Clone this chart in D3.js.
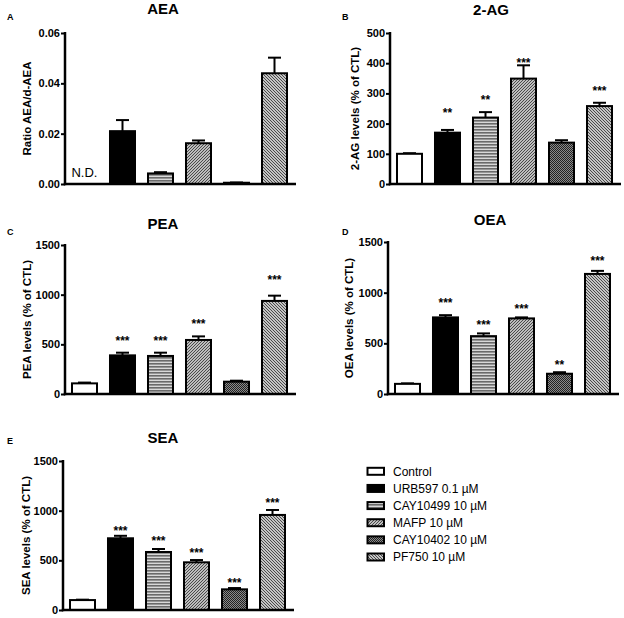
<!DOCTYPE html>
<html><head><meta charset="utf-8">
<script src="https://cdn.jsdelivr.net/npm/d3@7"></script>
<style>
html,body{margin:0;padding:0;background:#fff;}
svg{display:block;font-family:"Liberation Sans",Arial,sans-serif;}
</style></head>
<body><svg id="c" width="624" height="618"></svg>
<script>
// ---------- data ----------
const groups = ["Control","URB597 0.1 µM","CAY10499 10 µM","MAFP 10 µM","CAY10402 10 µM","PF750 10 µM"];
const panelIds = ["A","B","C","D","E"];
const titles = ["AEA","2-AG","PEA","OEA","SEA"];
const yLabels = ["Ratio AEA/d-AEA","2-AG levels (% of CTL)","PEA levels (% of CTL)","OEA levels (% of CTL)","SEA levels (% of CTL)"];
const yMax = [0.06, 500, 1500, 1500, 1500];
const yTicks = [[0,0.02,0.04,0.06],[0,100,200,300,400,500],[0,500,1000,1500],[0,500,1000,1500],[0,500,1000,1500]];
const tickFormats = [".2f","d","d","d","d"];

const aeaMean = [null, 0.021, 0.0042, 0.0162, 0.0005, 0.0440];
const aeaErr  = [null, 0.0044, 0.0005, 0.0011, 0.0001, 0.0062];
const agMean  = [100, 170, 220, 349, 137, 258];
const agErr   = [2, 9, 18, 44, 8, 11];
const peaMean = [107, 389, 383, 544, 124, 937];
const peaErr  = [8, 27, 33, 36, 10, 53];
const oeaMean = [100, 756, 571, 746, 200, 1185];
const oeaErr  = [5, 22, 27, 10, 15, 30];
const seaMean = [100, 722, 584, 480, 208, 957];
const seaErr  = [4, 25, 30, 23, 13, 50];

const agStars  = ["","**","**","***","","***"];
const peaStars = ["","***","***","***","","***"];
const oeaStars = ["","***","***","***","**","***"];
const seaStars = ["","***","***","***","***","***"];
const agStarAt  = [0,245,288,411,0,318];
const peaStarAt = [0,561,561,738,0,1181];
const oeaStarAt = [0,926,712,867,315,1340];
const seaStarAt = [0,829,725,604,302,1108];

const means = [aeaMean, agMean, peaMean, oeaMean, seaMean];
const errs  = [aeaErr, agErr, peaErr, oeaErr, seaErr];
const stars = [null, agStars, peaStars, oeaStars, seaStars];
const starAt = [null, agStarAt, peaStarAt, oeaStarAt, seaStarAt];

// ---------- layout ----------
const layout = [
  {ax:65,  yb:184, yt:33,  tx:163, ty:14,  lx:7,   ly:20,  labx:31},
  {ax:390, yb:184, yt:33,  tx:491, ty:15,  lx:342, ly:20,  labx:359},
  {ax:65,  yb:394, yt:245, tx:163, ty:229, lx:7,   ly:235, labx:31},
  {ax:388, yb:394, yt:242, tx:490, ty:225, lx:342, ly:235, labx:353},
  {ax:63,  yb:610, yt:461, tx:163, ty:443, lx:7,   ly:444, labx:30}
];

const svg = d3.select("#c");
const defs = svg.append("defs");

// patterns
function pat(id, w, h, draw){
  const p = defs.append("pattern").attr("id",id).attr("patternUnits","userSpaceOnUse")
    .attr("width",w).attr("height",h);
  draw(p);
}
pat("pStripe",4,3,p=>{
  p.append("rect").attr("width",4).attr("height",3).attr("fill","#d8d8d8");
  p.append("rect").attr("width",4).attr("height",1.6).attr("fill","#6a6a6a");
});
pat("pDiagA",3,3,p=>{
  p.append("rect").attr("width",3).attr("height",3).attr("fill","#bdbdbd");
  p.append("path").attr("d","M-1,1 L1,-1 M0,3 L3,0 M2,4 L4,2").attr("stroke","#4a4a4a").attr("stroke-width",1);
});
pat("pCheck",2,2,p=>{
  p.append("rect").attr("width",2).attr("height",2).attr("fill","#8a8a8a");
  p.append("rect").attr("width",1).attr("height",1).attr("fill","#222");
  p.append("rect").attr("x",1).attr("y",1).attr("width",1).attr("height",1).attr("fill","#222");
});
pat("pDiagB",3,3,p=>{
  p.append("rect").attr("width",3).attr("height",3).attr("fill","#c4c4c4");
  p.append("path").attr("d","M-1,2 L1,4 M0,0 L3,3 M2,-1 L4,1").attr("stroke","#4a4a4a").attr("stroke-width",1);
});
const fills = ["#ffffff","#000000","url(#pStripe)","url(#pDiagA)","url(#pCheck)","url(#pDiagB)"];

panelIds.forEach((pid,i)=>{
  const L = layout[i];
  const g = svg.append("g");
  const x = d3.scaleBand().domain(groups).range([L.ax, L.ax+229]).paddingInner(0.342).paddingOuter(0.184);
  const y = d3.scaleLinear().domain([0,yMax[i]]).range([L.yb, L.yt]);

  // bars
  const data = groups.map((gname,k)=>({g:gname,k:k,m:means[i][k],e:errs[i][k]})).filter(d=>d.m!==null);
  // error bars (upper only)
  const eb = g.append("g");
  data.forEach(d=>{
    const cx = x(d.g)+x.bandwidth()/2;
    eb.append("line").attr("x1",cx).attr("x2",cx).attr("y1",y(d.m)).attr("y2",y(d.m+d.e))
      .attr("stroke","#000").attr("stroke-width",2);
    eb.append("line").attr("x1",cx-6.5).attr("x2",cx+6.5).attr("y1",y(d.m+d.e)).attr("y2",y(d.m+d.e))
      .attr("stroke","#000").attr("stroke-width",2);
  });
  g.selectAll("rect.bar").data(data).join("rect").attr("class","bar")
    .attr("x",d=>x(d.g)).attr("width",x.bandwidth())
    .attr("y",d=>y(d.m)).attr("height",d=>Math.max(0.5,y(0)-y(d.m)))
    .attr("fill",d=>fills[d.k]).attr("stroke","#000").attr("stroke-width",2);

  // stars
  if(stars[i]){
    groups.forEach((gname,k)=>{
      if(!stars[i][k]) return;
      g.append("text").attr("x",x(gname)+x.bandwidth()/2).attr("y",y(starAt[i][k])+7)
        .attr("text-anchor","middle").attr("font-size",12).attr("font-weight","bold").text(stars[i][k]);
    });
  }
  // N.D.
  if(i===0){
    g.append("text").attr("x",x(groups[0])+x.bandwidth()/2).attr("y",L.yb-7)
      .attr("text-anchor","middle").attr("font-size",13).text("N.D.");
  }

  // axes
  const yAxis = d3.axisLeft(y).tickValues(yTicks[i]).tickFormat(d3.format(tickFormats[i])).tickSize(4).tickPadding(1);
  const ya = g.append("g").attr("transform",`translate(${L.ax},0)`).call(yAxis);
  ya.select(".domain").remove();
  ya.selectAll(".tick line").attr("stroke","#000").attr("stroke-width",2);
  ya.selectAll(".tick text").attr("font-size",11).attr("font-weight","bold").attr("fill","#000")
    .attr("font-family","Liberation Sans, Arial, sans-serif");
  g.append("line").attr("x1",L.ax).attr("x2",L.ax).attr("y1",L.yt-1).attr("y2",L.yb+1.2)
    .attr("stroke","#000").attr("stroke-width",2.5);
  g.append("line").attr("x1",L.ax-1.2).attr("x2",L.ax+231).attr("y1",L.yb).attr("y2",L.yb)
    .attr("stroke","#000").attr("stroke-width",2.5);

  // y label
  g.append("text").attr("transform",`translate(${L.labx},${(L.yt+L.yb)/2}) rotate(-90)`)
    .attr("text-anchor","middle").attr("font-size",11.5).attr("font-weight","bold").text(yLabels[i]);
  // title
  g.append("text").attr("x",L.tx).attr("y",L.ty).attr("text-anchor","middle")
    .attr("font-size",15).attr("font-weight","bold").text(titles[i]);
  // panel letter
  g.append("text").attr("x",L.lx).attr("y",L.ly).attr("font-size",9).attr("font-weight","bold").text(pid);
});

// legend
const lg = svg.append("g");
const legY = d3.scalePoint().domain(groups).range([471.3, 557]);
groups.forEach((gname,k)=>{
  lg.append("rect").attr("x",367.5).attr("y",legY(gname)-3.5).attr("width",16.5).attr("height",7)
    .attr("fill",fills[k]).attr("stroke","#000").attr("stroke-width",2);
  lg.append("text").attr("x",393).attr("y",legY(gname)+4.3).attr("font-size",12).text(gname);
});
</script></body></html>
